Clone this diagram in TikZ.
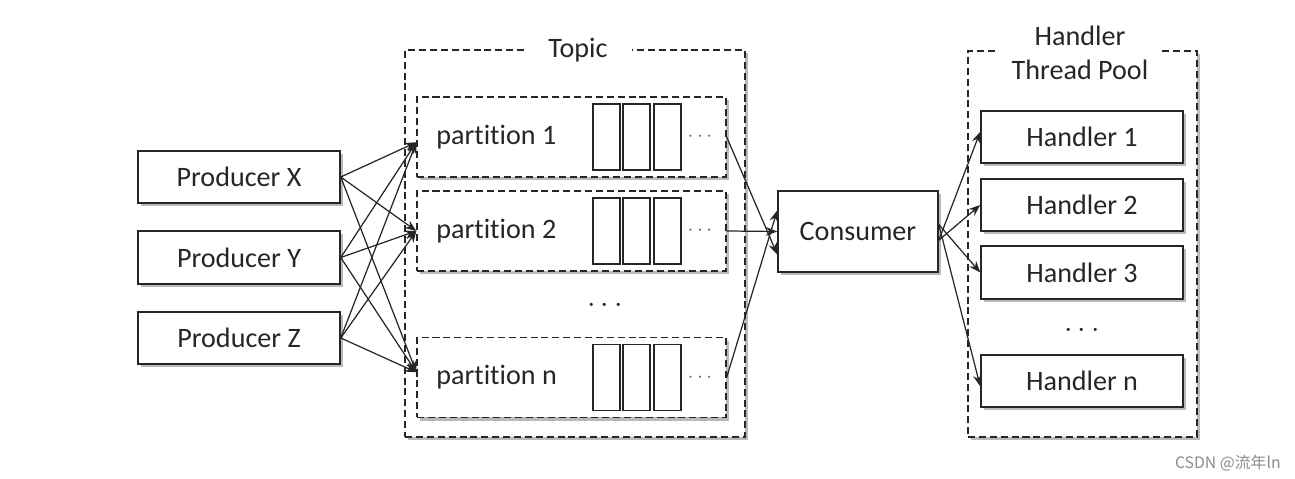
\documentclass[tikz,border=0pt]{standalone}
\usepackage{fontspec}
\setmainfont{Carlito}[RawFeature=-liga]
\newfontfamily\cjk{Noto Sans CJK SC}
\usetikzlibrary{arrows.meta,shadows}
\begin{document}
\begin{tikzpicture}[x=0.02cm,y=-0.02cm,
  shd/.style={drop shadow={shadow xshift=1.8pt,shadow yshift=-1.8pt,opacity=0.45,fill=black!60}},
  solidbox/.style={draw=black!85,line width=0.9pt,fill=white,shd,minimum width=4.04cm,minimum height=1.05cm,font=\fontsize{16}{19}\selectfont,text=black!85,inner sep=0pt},
  dbox/.style={draw=black!85,line width=0.8pt,dash pattern=on 4pt off 2.2pt,fill=white,shd},
  partbox/.style={dbox,minimum width=6.18cm,minimum height=1.6cm,inner sep=0pt},
  cell/.style={draw=black!85,line width=0.85pt,fill=white,minimum width=0.54cm,minimum height=1.32cm,inner sep=0pt},
  lbl/.style={font=\fontsize{16}{19}\selectfont,text=black!85,inner sep=0pt},
  sdots/.style={font=\fontsize{12}{13}\selectfont,text=black!60,inner sep=0pt},
  arr/.style={draw=black!85,line width=0.7pt,-{Stealth[length=6.5pt,width=5pt]}}
]
\useasboundingbox (0,0) rectangle (1295,479);
\fill[white] (0,0) rectangle (1295,479);

% Topic container
\node[dbox,minimum width=6.8cm,minimum height=7.74cm,inner sep=0pt] (topic) at (575,243.5) {};
\node[lbl,fill=white,inner xsep=14pt,inner ysep=2pt] (topict) at (578,50) {Topic};

% Handler pool container
\node[dbox,minimum width=4.58cm,minimum height=7.72cm,inner sep=0pt] (pool) at (1082.5,244) {};
\node[lbl,fill=white,align=center,inner xsep=8pt,inner ysep=2pt] (poolt) at (1080,53) {Handler\\Thread Pool};

% Producers
\node[solidbox] (px) at (239,177) {Producer X};
\node[solidbox] (py) at (239,257.5) {Producer Y};
\node[solidbox] (pz) at (239,338) {Producer Z};

% Partitions
\node[partbox] (p1) at (571.5,137) {};
\node[partbox] (p2) at (571.5,231) {};
\node[partbox] (pn) at (571.5,377.5) {};
\node[lbl,anchor=west] (p1t) at (436,137) {partition 1};
\node[lbl,anchor=west] (p2t) at (436,231) {partition 2};
\node[lbl,anchor=west] (pnt) at (436,377.5) {partition n};
\foreach \p/\y in {1/137,2/231,n/377.5}{
  \node[cell] (c\p a) at (606.5,\y) {};
  \node[cell] (c\p b) at (636.5,\y) {};
  \node[cell] (c\p c) at (667.5,\y) {};
  \node[sdots] (d\p) at (700,\y) {$\cdots$};
}
\node[lbl] (pdots) at (605,306) {$\cdots$};

% Consumer
\node[solidbox,minimum width=3.2cm,minimum height=1.62cm] (cons) at (858,231.5) {Consumer};

% Handlers
\node[solidbox] (h1) at (1082,137) {Handler 1};
\node[solidbox] (h2) at (1082,205) {Handler 2};
\node[solidbox] (h3) at (1082,272.5) {Handler 3};
\node[lbl] (hdots) at (1082,331) {$\cdots$};
\node[solidbox] (hn) at (1082,381) {Handler n};

% Producer -> partition arrows
\foreach \s in {px,py,pz}{
  \draw[arr] (\s.east) -- ([yshift=-3]p1.west);
  \draw[arr] (\s.east) -- (p2.west);
  \draw[arr] (\s.east) -- ([yshift=3]pn.west);
}

% Partition -> consumer
\draw[arr] (p1.east) -- ([yshift=-13]cons.west);
\draw[arr] (p2.east) -- (cons.west);
\draw[arr] (pn.east) -- ([yshift=12]cons.west);

% Consumer -> handlers
\coordinate (co1) at ([yshift=-5]cons.east);
\coordinate (co2) at ([yshift=4]cons.east);
\draw[arr] (co1) -- ([yshift=3]h1.west);
\draw[arr] (co1) -- (h2.west);
\draw[arr] (co2) -- (h3.west);
\draw[arr] (co2) -- ([yshift=-3]hn.west);

% watermark
\node[font=\cjk\fontsize{9}{10}\selectfont,text=black!45,anchor=east,inner sep=0pt] (wm) at (1281,463) {CSDN @流年ln};
\end{tikzpicture}
\end{document}
